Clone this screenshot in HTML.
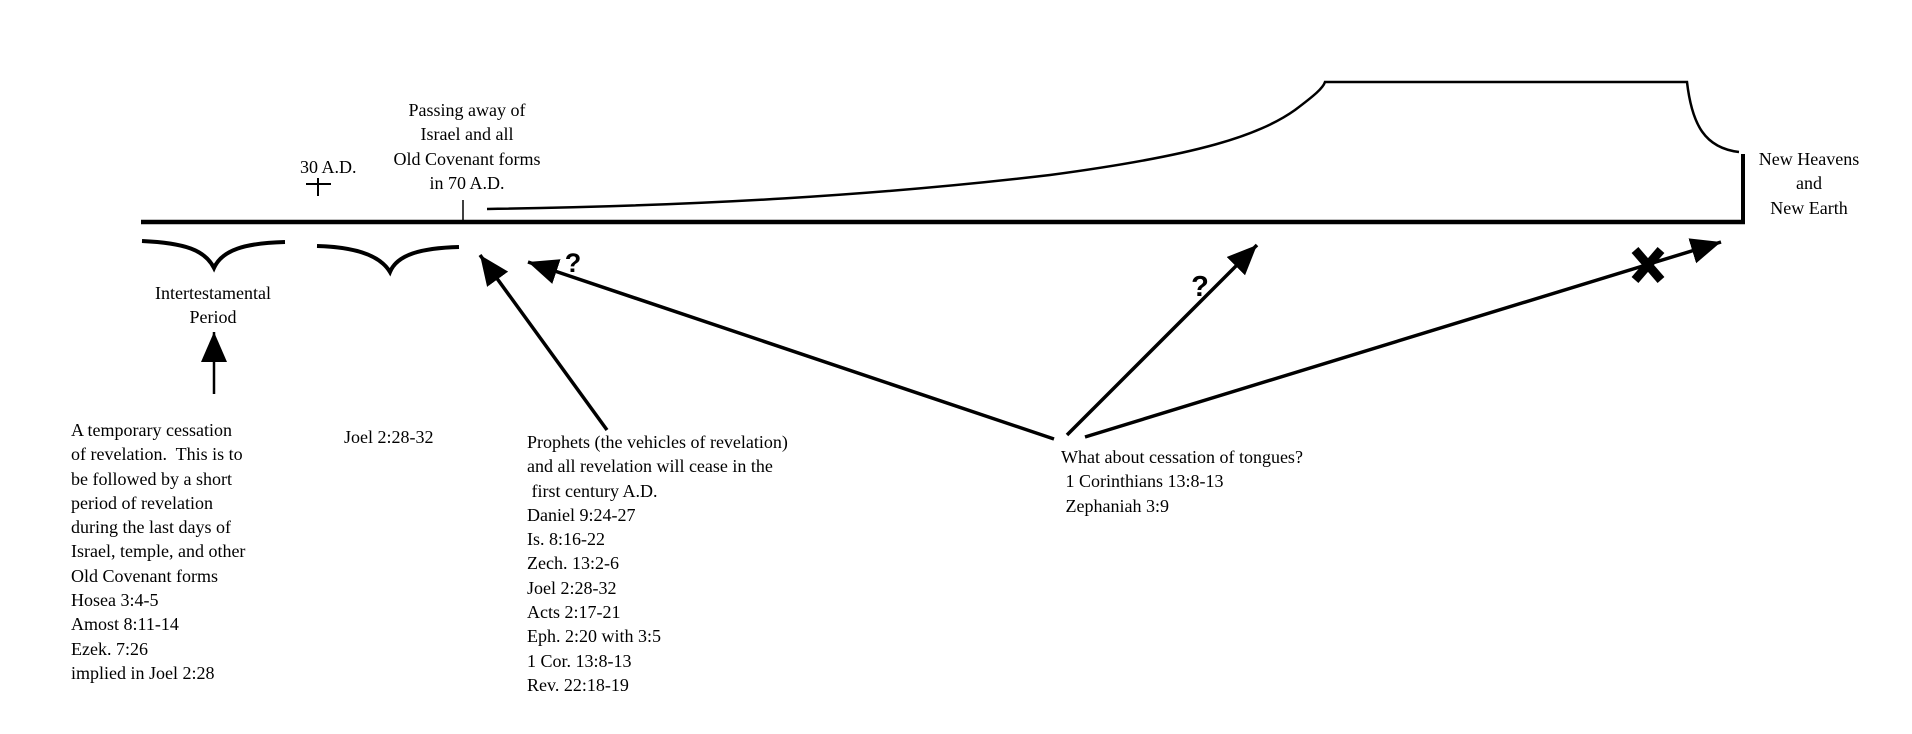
<!DOCTYPE html>
<html><head><meta charset="utf-8"><style>
html,body{margin:0;padding:0;background:#fff;}
body{width:1912px;height:734px;position:relative;overflow:hidden;font-family:"Liberation Serif",serif;color:#000;}
.t{position:absolute;font-size:18px;line-height:24.3px;white-space:nowrap;}
.c{text-align:center;}
svg{position:absolute;left:0;top:0;}
</style></head><body>
<svg width="1912" height="734" viewBox="0 0 1912 734">
<defs>
<marker id="ah" markerUnits="userSpaceOnUse" markerWidth="34" markerHeight="28" refX="30" refY="13" orient="auto">
<path d="M0,0 L30,13 L0,26 Z" fill="#000"/>
</marker>
</defs>
<line x1="141" y1="222" x2="1745" y2="222" stroke="#000" stroke-width="4.5"/>
<line x1="1743" y1="154" x2="1743" y2="224" stroke="#000" stroke-width="4"/>
<path d="M487,209 C700,206 880,195 1050,175 C1200,155 1260,135 1295,110 C1315,95 1323,88 1325,82 L1687,82 C1692,125 1705,148 1739,152" fill="none" stroke="#000" stroke-width="2.5"/>
<line x1="463" y1="200" x2="463" y2="221" stroke="#000" stroke-width="1.5"/>
<line x1="318" y1="178" x2="318" y2="196" stroke="#000" stroke-width="2"/>
<line x1="306" y1="184" x2="331" y2="184" stroke="#000" stroke-width="2"/>
<path d="M142,241 C185,243 205,250 214,268 C222,250 245,243 285,242" fill="none" stroke="#000" stroke-width="4"/>
<path d="M317,246 C355,247 380,255 390,272 C397,255 420,248 459,247" fill="none" stroke="#000" stroke-width="4"/>
<line x1="214" y1="394" x2="214" y2="332" stroke="#000" stroke-width="2.5" marker-end="url(#ah)"/>
<line x1="607" y1="430" x2="480" y2="255" stroke="#000" stroke-width="3.5" marker-end="url(#ah)"/>
<line x1="1054" y1="439" x2="528" y2="262" stroke="#000" stroke-width="3.5" marker-end="url(#ah)"/>
<line x1="1067" y1="435" x2="1257" y2="245" stroke="#000" stroke-width="3.5" marker-end="url(#ah)"/>
<line x1="1085" y1="437" x2="1721" y2="242" stroke="#000" stroke-width="3.5" marker-end="url(#ah)"/>
<g transform="translate(1648,265)">
<line x1="-13" y1="-15" x2="13" y2="15" stroke="#000" stroke-width="9"/>
<line x1="13" y1="-15" x2="-13" y2="15" stroke="#000" stroke-width="9"/>
</g>
<text x="573" y="272" font-family="Liberation Sans,sans-serif" font-weight="bold" font-size="27" text-anchor="middle">?</text>
<text x="1200" y="296" font-family="Liberation Sans,sans-serif" font-weight="bold" font-size="29" text-anchor="middle">?</text>
</svg>

<div class="t c" style="left:387px;top:98px;width:160px;">Passing away of<br>Israel and all<br>Old Covenant forms<br>in 70 A.D.</div>
<div class="t" style="left:300px;top:155px;">30 A.D.</div>
<div class="t c" style="left:133px;top:281px;width:160px;">Intertestamental<br>Period</div>
<div class="t c" style="left:1729px;top:147px;width:160px;">New Heavens<br>and<br>New Earth</div>

<div class="t" style="left:71px;top:418px;">A temporary cessation<br>of revelation.&nbsp; This is to<br>be followed by a short<br>period of revelation<br>during the last days of<br>Israel, temple, and other<br>Old Covenant forms<br>Hosea 3:4-5<br>Amost 8:11-14<br>Ezek. 7:26<br>implied in Joel 2:28</div>
<div class="t" style="left:344px;top:425px;">Joel 2:28-32</div>
<div class="t" style="left:527px;top:430px;">Prophets (the vehicles of revelation)<br>and all revelation will cease in the<br>&nbsp;first century A.D.<br>Daniel 9:24-27<br>Is. 8:16-22<br>Zech. 13:2-6<br>Joel 2:28-32<br>Acts 2:17-21<br>Eph. 2:20 with 3:5<br>1 Cor. 13:8-13<br>Rev. 22:18-19</div>
<div class="t" style="left:1061px;top:445px;">What about cessation of tongues?<br>&nbsp;1 Corinthians 13:8-13<br>&nbsp;Zephaniah 3:9</div>
</body></html>
